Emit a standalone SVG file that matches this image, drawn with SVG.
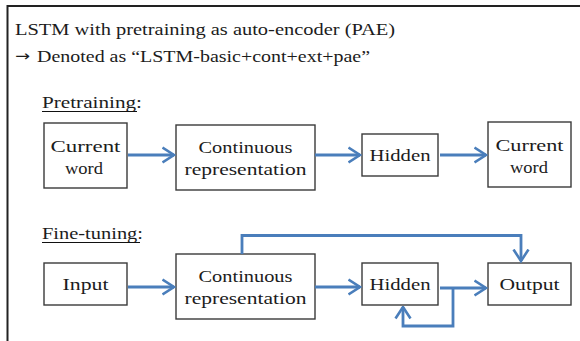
<svg xmlns="http://www.w3.org/2000/svg" width="580" height="341" viewBox="0 0 580 341">
  <style>
    .box { fill: #ffffff; stroke: #3a3a3a; stroke-width: 1.4; }
    .t { font-family: "Liberation Serif", "Times New Roman", serif; font-size: 17px; fill: #1c1c1c; }
    .hd { font-family: "Liberation Serif", "Times New Roman", serif; font-size: 17.5px; fill: #1c1c1c; }
    .ar { font-family: "DejaVu Sans", sans-serif; font-size: 15px; fill: #1c1c1c; }
    .c { text-anchor: middle; }
    .wire { fill: none; stroke: #4a7ebb; stroke-width: 2.8; stroke-linejoin: miter; }
  </style>
  <defs>
    <marker id="arr" viewBox="0 0 14 18" refX="12.5" refY="9" markerWidth="14" markerHeight="18" markerUnits="userSpaceOnUse" orient="auto">
      <path d="M1,1.5 L12.5,9 L1,16.5" fill="none" stroke="#4a7ebb" stroke-width="2.6"/>
    </marker>
  </defs>

  <rect width="580" height="341" fill="#ffffff"/>

  <!-- outer frame (left and top edges) -->
  <path d="M7.5,345 V6 H585" fill="none" stroke="#222222" stroke-width="2"/>

  <!-- heading -->
  <text class="hd" x="15" y="35" textLength="380" lengthAdjust="spacingAndGlyphs">LSTM with pretraining as auto-encoder (PAE)</text>
  <text class="ar" x="15" y="61" textLength="15" lengthAdjust="spacingAndGlyphs">→</text>
  <text class="hd" x="37" y="62" textLength="333" lengthAdjust="spacingAndGlyphs">Denoted as “LSTM-basic+cont+ext+pae”</text>

  <!-- section labels -->
  <text class="t" x="42" y="108" textLength="100" lengthAdjust="spacingAndGlyphs">Pretraining:</text>
  <line x1="42" y1="111.5" x2="137" y2="111.5" stroke="#111111" stroke-width="1.2"/>
  <text class="t" x="42" y="239" textLength="101" lengthAdjust="spacingAndGlyphs">Fine-tuning:</text>
  <line x1="42" y1="242.5" x2="140" y2="242.5" stroke="#111111" stroke-width="1.2"/>

  <!-- pretraining nodes -->
  <g id="pre-current-word">
    <rect class="box" x="44" y="123" width="83" height="65"/>
    <text class="t c" x="85.5" y="152" textLength="70" lengthAdjust="spacingAndGlyphs">Current</text>
    <text class="t c" x="84" y="174" textLength="38" lengthAdjust="spacingAndGlyphs">word</text>
  </g>
  <g id="pre-continuous">
    <rect class="box" x="176" y="125" width="139" height="65"/>
    <text class="t c" x="245.5" y="153" textLength="94" lengthAdjust="spacingAndGlyphs">Continuous</text>
    <text class="t c" x="245.5" y="175" textLength="122" lengthAdjust="spacingAndGlyphs">representation</text>
  </g>
  <g id="pre-hidden">
    <rect class="box" x="362" y="134" width="76" height="42"/>
    <text class="t c" x="400" y="161" textLength="61" lengthAdjust="spacingAndGlyphs">Hidden</text>
  </g>
  <g id="pre-output-word">
    <rect class="box" x="488" y="122" width="83" height="65"/>
    <text class="t c" x="529.5" y="151" textLength="68" lengthAdjust="spacingAndGlyphs">Current</text>
    <text class="t c" x="529" y="173" textLength="38" lengthAdjust="spacingAndGlyphs">word</text>
  </g>

  <!-- fine-tuning nodes -->
  <g id="ft-input">
    <rect class="box" x="44" y="263" width="83" height="42"/>
    <text class="t c" x="85.5" y="290" textLength="46" lengthAdjust="spacingAndGlyphs">Input</text>
  </g>
  <g id="ft-continuous">
    <rect class="box" x="176" y="254" width="139" height="65"/>
    <text class="t c" x="245.5" y="282" textLength="94" lengthAdjust="spacingAndGlyphs">Continuous</text>
    <text class="t c" x="245.5" y="304" textLength="122" lengthAdjust="spacingAndGlyphs">representation</text>
  </g>
  <g id="ft-hidden">
    <rect class="box" x="362" y="263" width="76" height="42"/>
    <text class="t c" x="400" y="290" textLength="61" lengthAdjust="spacingAndGlyphs">Hidden</text>
  </g>
  <g id="ft-output">
    <rect class="box" x="488" y="263" width="83" height="42"/>
    <text class="t c" x="529.5" y="290" textLength="60" lengthAdjust="spacingAndGlyphs">Output</text>
  </g>

  <!-- connectors -->
  <g id="connectors">
    <path class="wire" d="M128,155 H174" marker-end="url(#arr)"/>
    <path class="wire" d="M315,155 H360" marker-end="url(#arr)"/>
    <path class="wire" d="M440,155 H486" marker-end="url(#arr)"/>

    <path class="wire" d="M128,287 H174" marker-end="url(#arr)"/>
    <path class="wire" d="M315,287 H360" marker-end="url(#arr)"/>
    <path class="wire" d="M242,254 V235.5 H521 V261" marker-end="url(#arr)"/>
    <path class="wire" d="M440,288 H486" marker-end="url(#arr)"/>
    <path class="wire" d="M453,288 V326 H403 V307" marker-end="url(#arr)"/>
  </g>
</svg>
